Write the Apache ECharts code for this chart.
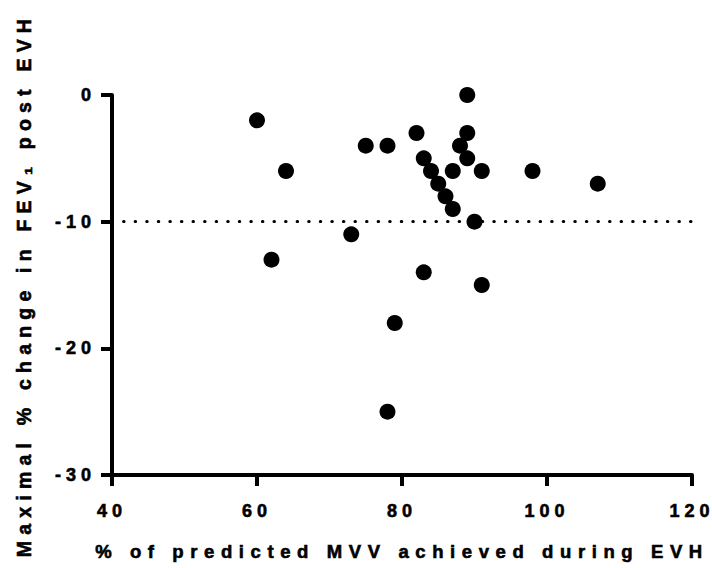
<!DOCTYPE html>
<html>
<head>
<meta charset="utf-8">
<script src="https://cdn.jsdelivr.net/npm/echarts@6/dist/echarts.min.js"></script>
<style>
  html, body { margin: 0; padding: 0; background: #fff; }
  #chart { width: 712px; height: 568px; }
  /* GraphPad-style heavy, widely spaced lettering */
  #chart text { font-weight: bold !important; letter-spacing: 5px; stroke: #000; stroke-width: 0.6px; }
  #chart text[style*="18.5px"] { letter-spacing: 6.6px; }
  #chart text[style*="19.5px"] { letter-spacing: 6.2px; }
</style>
</head>
<body>
<div id="chart"></div>
<script>
// % of predicted MVV achieved during EVH
const mvvAchieved = [60, 62, 64, 73, 75, 78, 78, 79, 82, 83, 83, 84, 85, 86, 87, 87, 88, 89, 89, 89, 90, 91, 91, 98, 107]
// maximal % change in FEV1 post EVH
const fevChange = [-2, -13, -6, -11, -4, -4, -25, -18, -3, -5, -14, -6, -7, -8, -6, -9, -4, 0, -3, -5, -10, -6, -15, -6, -7]
const xTicks = [40, 60, 80, 100, 120]
const yTicks = [-30, -20, -10, 0]
const threshold = -10

const xTitle = '% of predicted MVV achieved during EVH'
const yTitle = 'Maximal % change in FEV\u2081 post EVH'

const font = "'Liberation Sans', Arial, sans-serif"

const points = mvvAchieved.map((x, i) => [x, fevChange[i]])

const chart = echarts.init(document.getElementById('chart'), null, { renderer: 'svg' })

const axisCommon = {
  type: 'value',
  nameLocation: 'middle',
  nameTextStyle: { fontFamily: font, fontWeight: 'bold', color: '#000' },
  axisLine: { show: true, onZero: false, lineStyle: { color: '#000', width: 4 } },
  axisTick: { show: true, length: 11, lineStyle: { color: '#000', width: 4 } },
  splitLine: { show: false }
}

const option = {
  animation: false,
  grid: { left: 112, right: 20, top: 95, bottom: 93 },
  xAxis: {
    ...axisCommon,
    min: xTicks[0],
    max: xTicks[xTicks.length - 1],
    interval: xTicks[1] - xTicks[0],
    name: xTitle,
    nameGap: 67,
    nameTextStyle: { ...axisCommon.nameTextStyle, fontSize: 18.5 },
    axisLabel: { margin: 27, fontFamily: font, fontWeight: 'bold', fontSize: 18, color: '#000' }
  },
  yAxis: {
    ...axisCommon,
    min: yTicks[0],
    max: yTicks[yTicks.length - 1],
    interval: yTicks[1] - yTicks[0],
    name: yTitle,
    nameGap: 78,
    nameTextStyle: { ...axisCommon.nameTextStyle, fontSize: 19.5 },
    axisLabel: { margin: 16, fontFamily: font, fontWeight: 'bold', fontSize: 18, color: '#000' }
  },
  series: [
    {
      type: 'scatter',
      data: points,
      symbol: 'circle',
      symbolSize: 16,
      itemStyle: { color: '#000', opacity: 1 },
      z: 3,
      markLine: {
        silent: true,
        symbol: ['none', 'none'],
        label: { show: false },
        lineStyle: { color: '#000', width: 3, type: [0.5, 11.07], cap: 'round', opacity: 1 },
        data: [{ yAxis: threshold }]
      }
    }
  ]
}

chart.setOption(option)
</script>
</body>
</html>
